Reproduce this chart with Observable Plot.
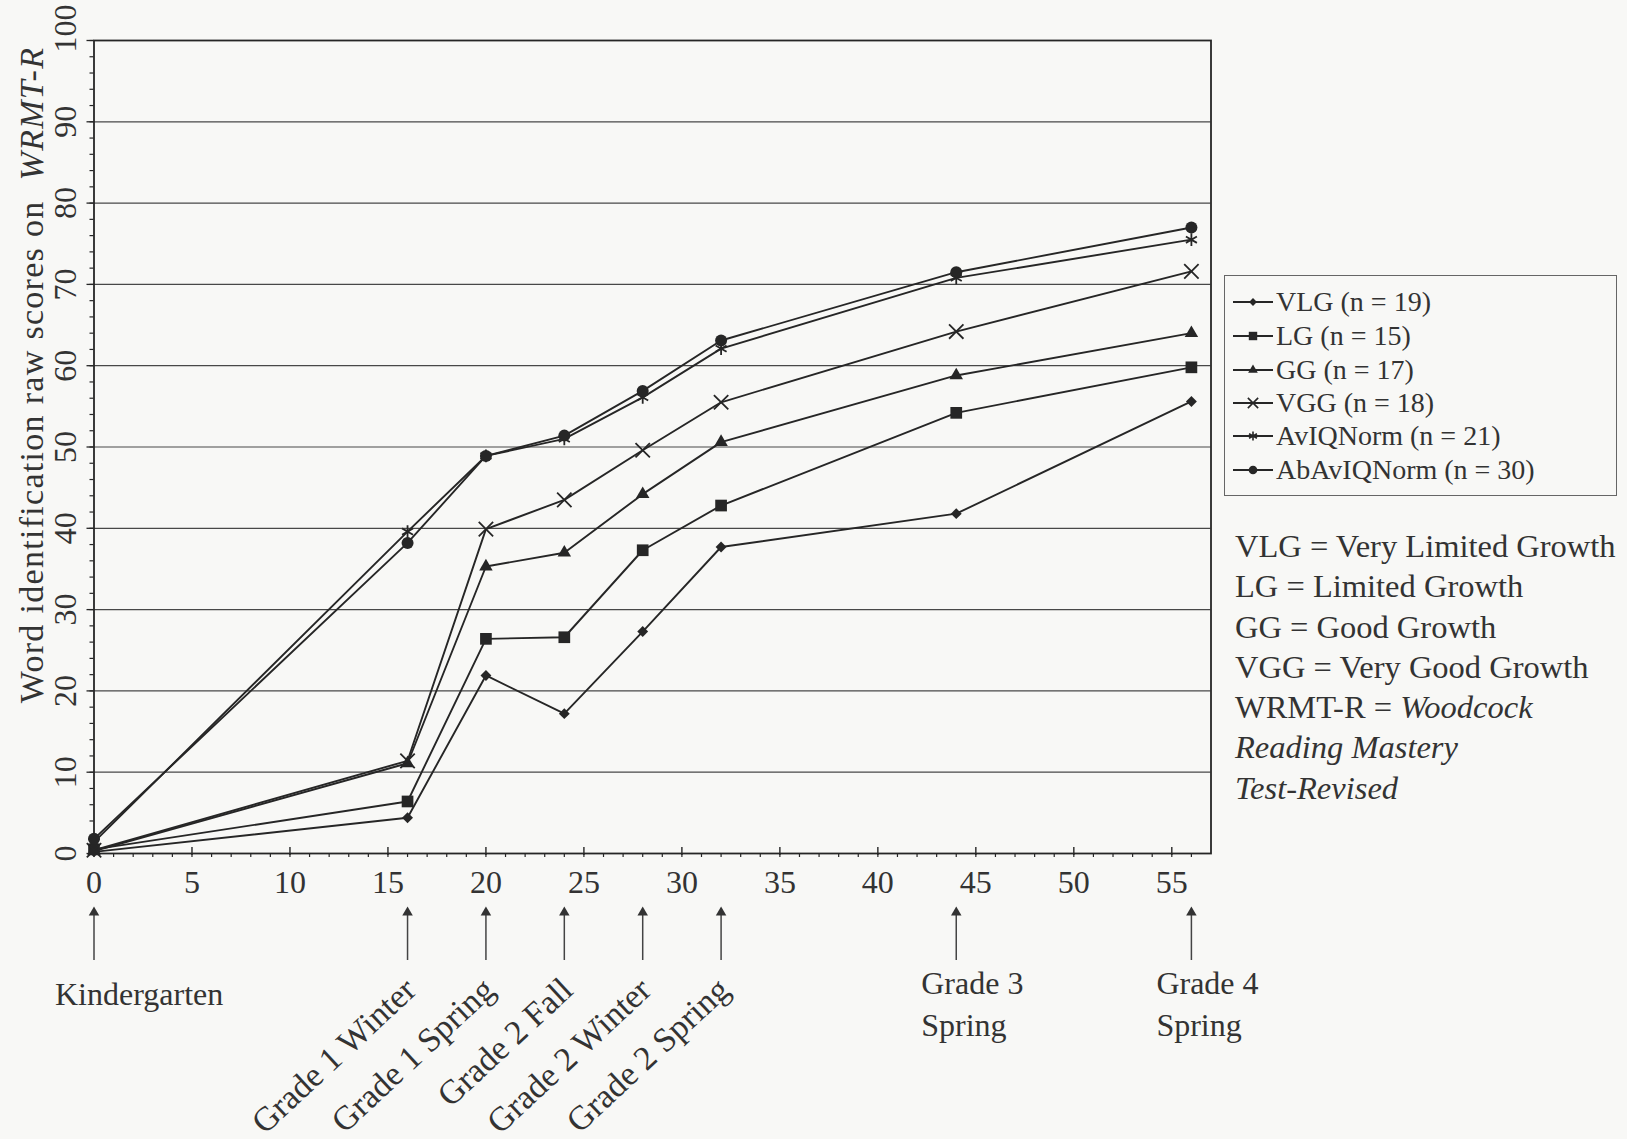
<!DOCTYPE html>
<html><head><meta charset="utf-8">
<script src="https://cdn.jsdelivr.net/npm/d3@7"></script>
<script src="https://cdn.jsdelivr.net/npm/@observablehq/plot@0.6"></script>
<style>
html,body{margin:0;padding:0;background:#f8f8f6;}
#wrap{position:relative;width:1627px;height:1139px;font-family:"Liberation Serif","DejaVu Serif",serif;color:#333;}
#legend{position:absolute;left:1224px;top:275px;width:393px;height:221px;border:1.3px solid #666;box-sizing:border-box;}
.row{position:absolute;left:8px;height:34px;display:flex;align-items:center;font-size:28px;white-space:nowrap;}
.row svg{margin-right:3px;}
#defs{position:absolute;left:1235px;top:526px;font-size:32.5px;line-height:40.3px;white-space:nowrap;}
</style></head><body><div id="wrap"></div>
<script>
// ---- data ----
const weeks = [0, 16, 20, 24, 28, 32, 44, 56];
const VLG        = [0.2, 4.4, 21.9, 17.2, 27.3, 37.7, 41.8, 55.6];
const LG         = [0.5, 6.4, 26.4, 26.6, 37.3, 42.8, 54.2, 59.8];
const GG         = [0.3, 11.1, 35.3, 37.0, 44.2, 50.6, 58.8, 64.0];
const VGG        = [0.4, 11.4, 39.9, 43.5, 49.6, 55.5, 64.2, 71.6];
const AvIQNorm   = [1.4, 39.6, 48.9, 51.0, 56.1, 62.1, 70.8, 75.5];
const AbAvIQNorm = [1.8, 38.2, 48.9, 51.4, 56.9, 63.1, 71.5, 77.0];
const seriesNames = ["VLG", "LG", "GG", "VGG", "AvIQNorm", "AbAvIQNorm"];
const seriesN = [19, 15, 17, 18, 21, 30];
const seriesValues = [VLG, LG, GG, VGG, AvIQNorm, AbAvIQNorm];
const xTicks = [0, 5, 10, 15, 20, 25, 30, 35, 40, 45, 50, 55];
const xMinorTicks = d3.range(0, 57, 1);
const yTicks = [0, 10, 20, 30, 40, 50, 60, 70, 80, 90, 100];
const yMinorTicks = d3.range(0, 101, 2);
const eventWeeks = [0, 16, 20, 24, 28, 32, 44, 56];
const eventLabels = ["Kindergarten", "Grade 1 Winter", "Grade 1 Spring", "Grade 2 Fall",
  "Grade 2 Winter", "Grade 2 Spring", "Grade 3\nSpring", "Grade 4\nSpring"];
const defLines = [
  ["VLG = Very Limited Growth", ""],
  ["LG = Limited Growth", ""],
  ["GG = Good Growth", ""],
  ["VGG = Very Good Growth", ""],
  ["WRMT-R = ", "Woodcock"],
  ["", "Reading Mastery"],
  ["", "Test-Revised"]
];

// ---- styles ----
const ink = "#262626";
const markerStyle = {
  VLG: {symbol: "diamond2", r: 4.9, fill: ink, stroke: "none", d3s: d3.symbolDiamond2},
  LG: {symbol: "square", r: 6.6, fill: ink, stroke: "none", d3s: d3.symbolSquare},
  GG: {symbol: "triangle", r: 5.0, fill: ink, stroke: "none", d3s: d3.symbolTriangle},
  VGG: {symbol: "times", r: 6.6, fill: "none", stroke: ink, d3s: d3.symbolTimes},
  AvIQNorm: {symbol: "asterisk", r: 6.0, fill: "none", stroke: ink, d3s: d3.symbolAsterisk},
  AbAvIQNorm: {symbol: "circle", r: 6.0, fill: ink, stroke: "none", d3s: d3.symbolCircle}
};

const rows = seriesNames.flatMap((s, k) => weeks.map((w, i) => ({series: s, week: w, score: seriesValues[k][i]})));
const events = eventWeeks.map((w, i) => ({week: w, label: eventLabels[i]}));
const font = "Liberation Serif, DejaVu Serif, serif";
const txt = "#333";

const chart = Plot.plot({
  width: 1627, height: 1139,
  marginLeft: 93.5, marginRight: 416.5, marginTop: 40, marginBottom: 286,
  x: {domain: [0, 57], axis: null},
  y: {domain: [0, 100], axis: null},
  style: {background: "transparent", fontFamily: font, color: ink, overflow: "visible"},
  marks: [
    Plot.ruleY(yTicks.filter(d => d > 0 && d < 100), {y: d => d, stroke: "#484848", strokeWidth: 1.2}),
    Plot.frame({stroke: ink, strokeWidth: 1.8}),
    Plot.axisY({ticks: yMinorTicks, tickSize: 4, tickFormat: () => "", label: null, strokeWidth: 1.2}),
    Plot.axisY({ticks: yTicks, tickSize: 7, tickFormat: () => "", label: null, strokeWidth: 1.3}),
    Plot.ruleX(xMinorTicks, {x: d => d, y1: d => 0, y2: d => 0, insetTop: 0, insetBottom: -4, stroke: ink, strokeWidth: 1.2}),
    Plot.ruleX(xTicks, {x: d => d, y1: d => 0, y2: d => 0, insetTop: -6, insetBottom: -2, stroke: ink, strokeWidth: 1.4}),
    Plot.text(yTicks.filter(d => d < 100), {y: d => d, text: d => String(d), frameAnchor: "left", dx: -28, rotate: -90,
      fontSize: 32, textAnchor: "middle", lineAnchor: "middle", fill: txt}),
    Plot.text(yTicks.filter(d => d === 100), {y: d => d, text: d => String(d), frameAnchor: "left", dx: -28, dy: -12, rotate: -90,
      fontSize: 32, textAnchor: "middle", lineAnchor: "middle", fill: txt}),
    Plot.text(xTicks, {x: d => d, text: d => String(d), frameAnchor: "bottom", dy: 29,
      fontSize: 32, lineAnchor: "middle", fill: txt}),
    Plot.line(rows, {x: "week", y: "score", z: "series", stroke: ink, strokeWidth: 1.9}),
    ...seriesNames.map(s => {
      const m = markerStyle[s];
      return Plot.dot(rows.filter(d => d.series === s), {x: "week", y: "score", symbol: m.symbol, r: m.r,
        fill: m.fill, stroke: m.stroke, strokeWidth: 1.8});
    }),
    // event arrows
    Plot.ruleX(events, {x: "week", y1: d => 0, y2: d => 0, insetTop: 60, insetBottom: -107, stroke: "#444", strokeWidth: 1.5}),
    Plot.dot(events, {x: "week", frameAnchor: "bottom", dy: 59, symbol: "triangle", r: 3.9, fill: "#333"}),
    Plot.text(events.slice(0, 1), {x: "week", text: "label", frameAnchor: "bottom", dy: 141, dx: -39,
      textAnchor: "start", lineAnchor: "middle", fontSize: 32, fill: txt}),
    Plot.text(events.slice(1, 6), {x: "week", text: "label", frameAnchor: "bottom", dy: 131, dx: 3,
      textAnchor: "end", lineAnchor: "middle", rotate: -43, fontSize: 34, fill: txt}),
    Plot.text(events.slice(6), {x: "week", text: "label", frameAnchor: "bottom", dy: 148, dx: -35,
      textAnchor: "start", lineAnchor: "middle", lineHeight: 1.3, fontSize: 32, fill: txt})
  ]
});

const wrap = document.getElementById("wrap");
wrap.appendChild(chart);

// y axis title with italic part
const svg = d3.select(chart);
const t = svg.append("text")
  .attr("transform", "translate(31,375) rotate(-90)")
  .attr("text-anchor", "middle").attr("dominant-baseline", "central")
  .attr("font-family", font).attr("font-size", 34).attr("letter-spacing", "1.3px").attr("fill", txt);
t.append("tspan").text("Word identification raw scores on");
t.append("tspan").attr("font-style", "italic").attr("dx", 20).text("WRMT-R");

// legend
const legend = document.createElement("div");
legend.id = "legend";
const rowTops = [9, 43, 77, 110, 143, 177];
seriesNames.forEach((s, i) => {
  const m = markerStyle[s];
  const row = document.createElement("div");
  row.className = "row";
  row.style.top = rowTops[i] + "px";
  const sw = d3.create("svg").attr("width", 40).attr("height", 20);
  sw.append("line").attr("x1", 0).attr("x2", 40).attr("y1", 10).attr("y2", 10).attr("stroke", ink).attr("stroke-width", 1.8);
  sw.append("path").attr("transform", "translate(20,10)")
    .attr("d", d3.symbol(m.d3s, Math.PI * (m.r * 0.72) ** 2)())
    .attr("fill", m.fill).attr("stroke", m.stroke).attr("stroke-width", 1.6);
  row.appendChild(sw.node());
  const span = document.createElement("span");
  span.textContent = `${s} (n = ${seriesN[i]})`;
  row.appendChild(span);
  legend.appendChild(row);
});
wrap.appendChild(legend);

// definitions
const defs = document.createElement("div");
defs.id = "defs";
defLines.forEach(([plain, ital]) => {
  const line = document.createElement("div");
  line.appendChild(document.createTextNode(plain));
  if (ital) { const i = document.createElement("i"); i.textContent = ital; line.appendChild(i); }
  defs.appendChild(line);
});
wrap.appendChild(defs);
</script>
</body></html>
